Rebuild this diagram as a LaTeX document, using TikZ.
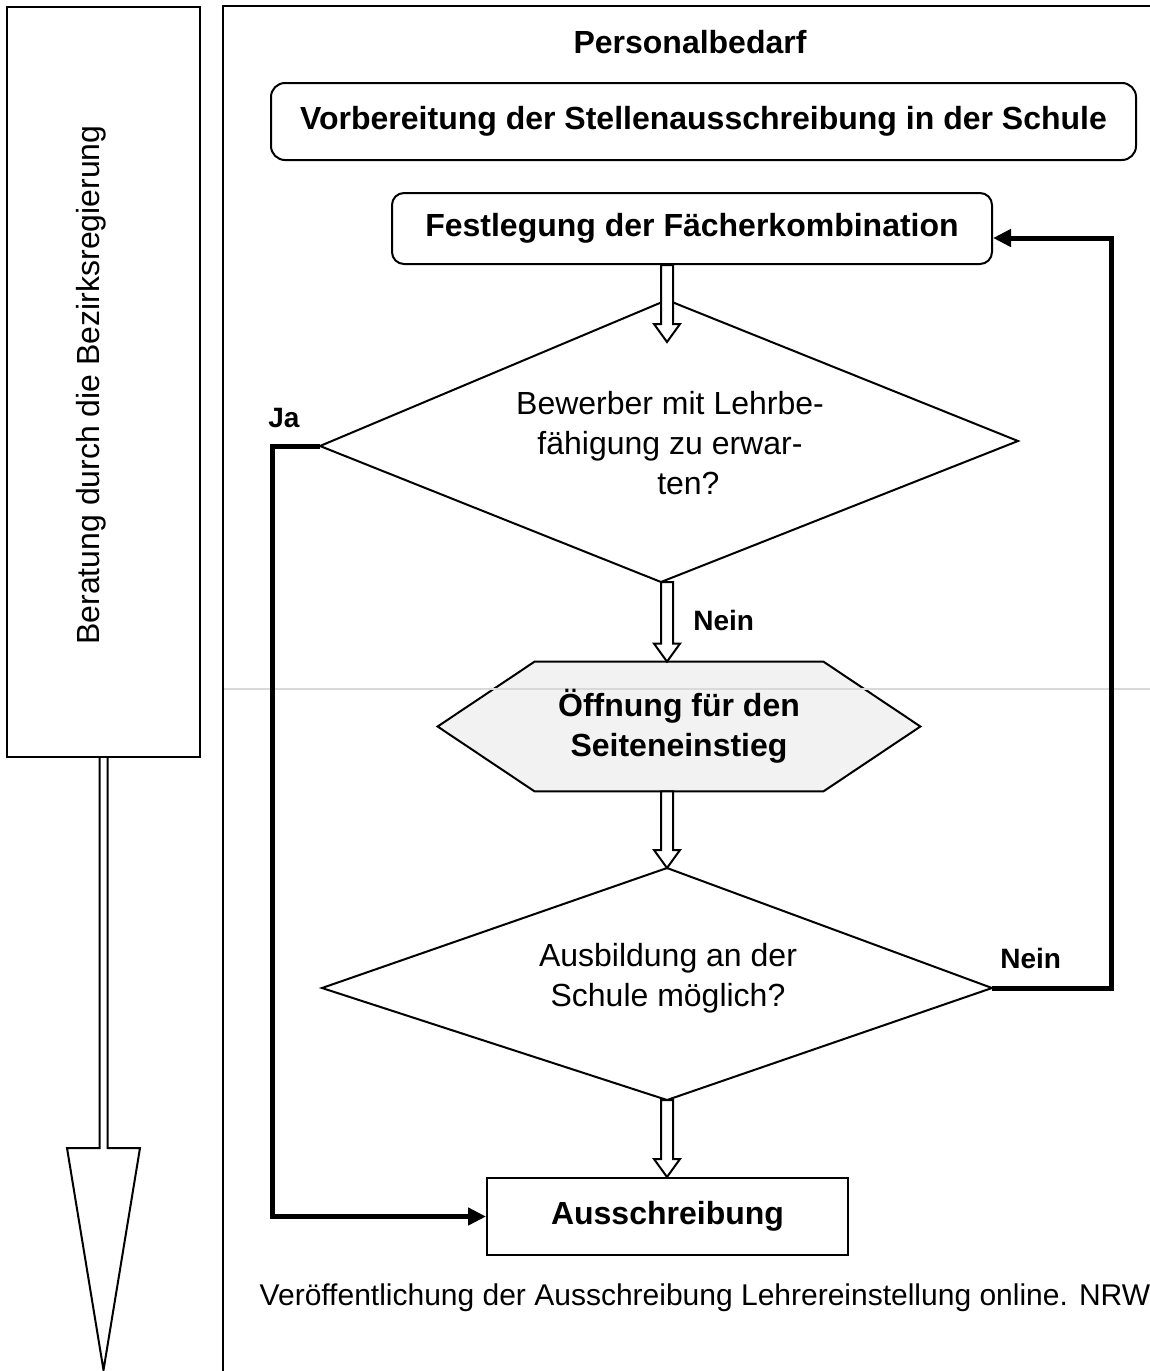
\documentclass[tikz,border=0pt]{standalone}
\usepackage{fontspec}
\setmainfont{Liberation Sans}
\usetikzlibrary{calc,arrows.meta,backgrounds}
\newcommand\hollowarrow[2]{\draw[hollowarr] let \p1=#1, \p2=#2 in (\x1-3pt,\y1) -- (\x1-3pt,\y2+9pt) -- (\x1-6.5pt,\y2+9pt) -- (\x1,\y2) -- (\x1+6.5pt,\y2+9pt) -- (\x1+3pt,\y2+9pt) -- (\x1+3pt,\y1) -- cycle;}
\begin{document}
\begin{tikzpicture}[x=0.5pt,y=-0.5pt,
  txt/.style={font=\fontsize{16}{20}\selectfont, align=center},
  btxt/.style={font=\bfseries\fontsize{16}{20}\selectfont, align=center},
  lbl/.style={font=\bfseries\fontsize{14}{17}\selectfont, inner sep=0pt},
  box/.style={draw, line width=1pt, inner sep=0pt, align=center},
  hollowarr/.style={draw, fill=white, line width=1pt, line join=miter},
  conn/.style={line width=2.5pt, line join=miter},
  tipa/.style={-{Triangle[length=9pt,width=8.5pt]}}]
\useasboundingbox (0,0) rectangle (1150,1371);
% helper coordinates
\coordinate (ax) at (667,0);
\coordinate (jx) at (272,0);
\coordinate (nbend) at (1111,238);
% faint page line
\draw[black!15, line width=0.8pt] (222,689) -- (1150,689);
% right panel frame
\draw[line width=1pt] (223,1371) -- (223,6) -- (1150,6);
% left box and big arrow
\node[box, minimum width=96.5pt, minimum height=375pt] (left) at (103.5,382) {};
\node[txt, rotate=90] (beratung) at (91,385) {Beratung durch die Bezirksregierung};
\coordinate (bigtip) at (103.5,1370);
\draw[hollowarr] let \p1=(left.south), \p2=(bigtip) in
  (\x1-2pt,\y1) -- (\x1-2pt,\y2+111pt) -- (\x1-18.25pt,\y2+111pt) -- (\x2,\y2)
  -- (\x1+18.25pt,\y2+111pt) -- (\x1+2pt,\y2+111pt) -- (\x1+2pt,\y1);
% title
\node[btxt] (title) at (690,42) {Personalbedarf};
% boxes
\node[box, rounded corners=7pt, minimum width=432.5pt, minimum height=38.5pt, btxt] (box1) at (703.5,121.5) {Vorbereitung der Stellenausschreibung in der Schule};
\node[box, rounded corners=6pt, minimum width=300pt, minimum height=35.5pt, btxt] (box2) at (692,228.5) {Festlegung der Fächerkombination};
% diamond 1
\coordinate (d1n) at (667,300);
\coordinate (d1e) at (1018,441);
\coordinate (d1s) at (661,582);
\coordinate (d1w) at (320,446);
\draw[line width=1pt] (d1n) -- (d1e) -- (d1s) -- (d1w) -- cycle;
\node[txt] (d1) at (670,443) {Bewerber mit Lehrbe-\\fähigung zu erwar-\\\hspace*{1.15em}ten?};
% hexagon
\node[btxt, minimum width=241pt, minimum height=64.5pt, inner sep=0pt] (hex) at (679,726.5) {Öffnung für den\\Seiteneinstieg};
\begin{scope}[on background layer]
\draw[line width=1pt, fill=black!5] ([xshift=48.5pt]hex.north west) -- ([xshift=-48.5pt]hex.north east) -- (hex.east) -- ([xshift=-48.5pt]hex.south east) -- ([xshift=48.5pt]hex.south west) -- (hex.west) -- cycle;
\end{scope}
% diamond 2
\coordinate (d2n) at (667,868);
\coordinate (d2e) at (992,988);
\coordinate (d2s) at (667,1100);
\coordinate (d2w) at (322,988);
\draw[line width=1pt] (d2n) -- (d2e) -- (d2s) -- (d2w) -- cycle;
\node[txt] (d2) at (668,978) {Ausbildung an der\\Schule möglich?};
% final box
\node[box, minimum width=180.5pt, minimum height=38.5pt, btxt] (box3) at (667.5,1216.5) {Ausschreibung};
\node[font=\fontsize{15}{18}\selectfont] (note) at (705,1298) {Veröffentlichung der Ausschreibung Lehrereinstellung online. NRW};
% thick connectors
\draw[conn, tipa] (d1w) -- (d1w -| jx) |- (box3.west);
\draw[conn, tipa] (d2e) -| (nbend) -- (nbend -| box2.east);
% hollow arrows
\hollowarrow{(box2.south -| ax)}{([yshift=-21pt]d1n -| ax)}
\hollowarrow{(d1s -| ax)}{(hex.north -| ax)}
\hollowarrow{(hex.south -| ax)}{(d2n)}
\hollowarrow{(d2s)}{(box3.north -| ax)}
% labels
\node[lbl, anchor=south west] (ja) at (268,428) {Ja};
\node[lbl, anchor=west] (nein1) at (693,620) {Nein};
\node[lbl, anchor=west] (nein2) at (1000,958) {Nein};
\end{tikzpicture}
\end{document}
